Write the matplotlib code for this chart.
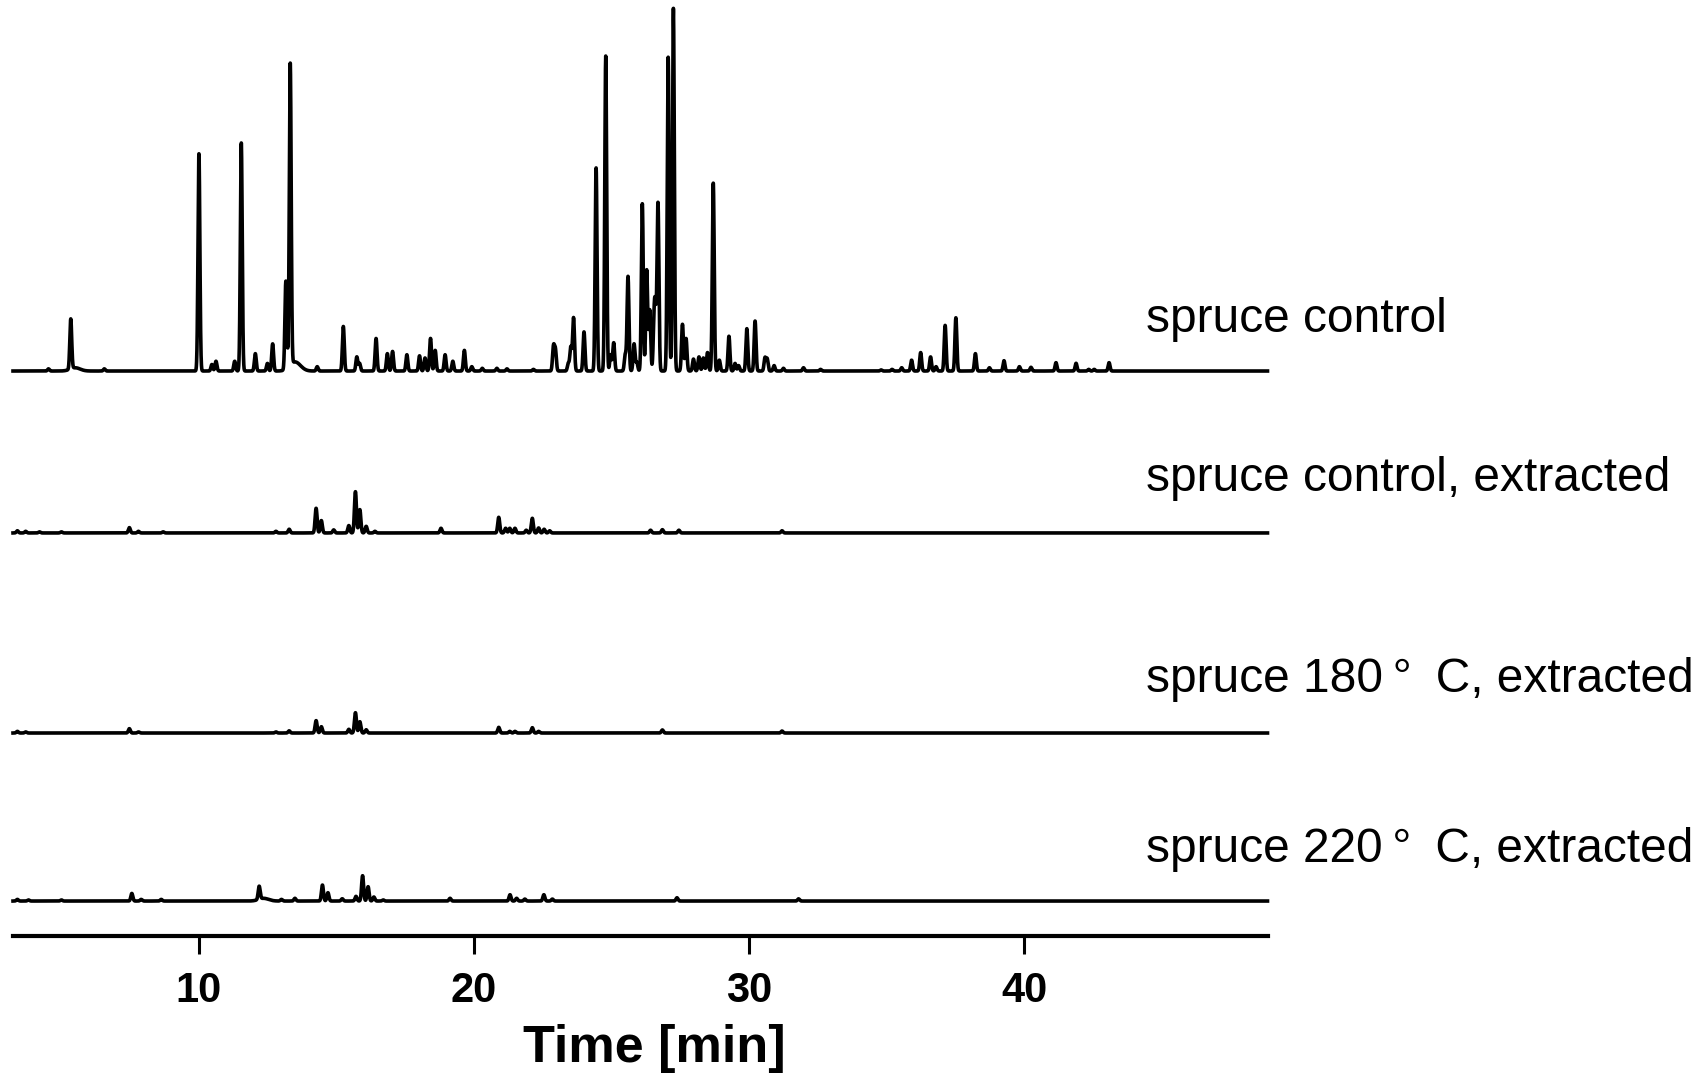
import numpy as np
import matplotlib
matplotlib.use("Agg")
import matplotlib.pyplot as plt

# ---------------- data (retention time [min], peak intensity) ----------------
t_control = [4.53, 5.34, 6.56, 10.0, 10.47, 10.62, 11.30, 11.54, 12.05, 12.49, 12.68, 13.16, 13.32,
             14.30, 15.25, 15.74, 15.84, 16.44, 16.85, 17.04, 17.56, 18.02, 18.22, 18.42, 18.59,
             18.95, 19.23, 19.65, 19.92, 20.30, 20.83, 21.20, 22.16, 22.89, 22.96, 23.43, 23.52,
             23.62, 24.00, 24.44, 24.79, 24.97, 25.08, 25.50, 25.60, 25.82, 25.92, 26.12, 26.28,
             26.39, 26.55, 26.60, 26.69, 27.06, 27.25, 27.58, 27.71, 27.98, 28.18, 28.34, 28.49,
             28.70, 28.92, 29.27, 29.49, 29.62, 29.92, 30.22, 30.58, 30.66, 30.91, 31.25, 31.98,
             32.6, 34.8, 35.2, 35.55, 35.91, 36.24, 36.60, 36.80, 37.13, 37.52, 38.23, 38.74,
             39.27, 39.83, 40.25, 41.16, 41.89, 42.35, 42.55, 43.09]
h_control = [2, 46, 2, 200, 6, 9, 9, 210, 16, 7, 25, 81, 278,
             4, 41, 13, 7, 30, 16, 18, 15, 14, 12, 30, 19,
             15, 9, 19, 4, 2.5, 2.5, 2, 1.5, 22, 19, 7, 22,
             49, 36, 187, 290, 15, 26, 15, 87, 25, 8, 154, 93,
             56, 44, 45, 154, 289, 334, 43, 30, 11, 13, 12, 17,
             173, 10, 32, 7, 5, 39, 46, 12, 11, 5, 2.5, 3,
             1.5, 1, 1.5, 3, 10, 17, 13, 4, 42, 49, 16, 3,
             9.5, 4, 3.4, 7.7, 7.1, 1.5, 1.5, 7.7]
t_control_tail = [5.50, 13.45, 13.60]
h_control_tail = [3, 6, 3]

t_extr = [3.4, 3.7, 4.2, 5.0, 7.47, 7.8, 8.7, 12.8, 13.28, 14.26, 14.45, 14.9, 15.45, 15.69,
          15.85, 16.08, 16.4, 18.80, 20.90, 21.15, 21.30, 21.49, 21.9, 22.12, 22.35, 22.55,
          22.75, 26.42, 26.85, 27.45, 31.2]
h_extr = [2, 1.5, 1, 1, 4.9, 1.5, 1, 1.5, 3.4, 22.7, 11.4, 2.8, 6.8, 38,
          21.5, 6.1, 1.5, 4.3, 14.4, 4.3, 4.3, 4.3, 2.5, 13.5, 4.6, 3.4,
          2, 2.5, 3, 2.5, 2]

t_180 = [3.4, 3.7, 7.47, 7.8, 12.8, 13.28, 14.26, 14.45, 15.45, 15.69, 15.85, 16.08,
         20.90, 21.30, 21.49, 22.12, 22.35, 26.85, 31.2]
h_180 = [1.5, 1, 4, 1, 1, 2, 11.4, 5.8, 3.4, 18.7, 10.4, 3,
         5.2, 1.5, 1.5, 4.9, 1.5, 2.8, 1.8]

t_220 = [3.4, 3.8, 5.0, 7.56, 7.9, 8.63, 12.19, 13.0, 13.49, 14.49, 14.69, 15.21, 15.71,
         15.95, 16.15, 16.36, 16.7, 19.13, 21.31, 21.55, 21.85, 22.54, 22.85, 27.38, 31.8]
h_220 = [1.5, 1, 1, 7, 1.5, 1.5, 12, 1.5, 2.5, 14.7, 7.7, 2.1, 4.3,
         23.3, 13.2, 3.7, 1, 2.5, 5.8, 2.5, 1.8, 5.8, 1.8, 3, 2]
t_220_tail = [12.35]
h_220_tail = [2.5]

labels = ["spruce control", "spruce control, extracted",
          "spruce 180\u2009°\u2002C, extracted", "spruce 220\u2009°\u2002C, extracted"]
offsets = [520.2, 371.1, 186.9, 32.2]
xticks = [10, 20, 30, 40]

# ---------------- drawing ----------------
W, H = 1703, 1074
fig = plt.figure(figsize=(W / 100, H / 100), dpi=100)
ax = fig.add_axes([13 / W, 138 / H, (1267.5 - 13) / W, 1 - 138 / H])
xmin, xmax = 3.24, 48.85
ax.set_xlim(xmin, xmax)
ax.set_ylim(0, 861.8)

x = np.linspace(xmin, xmax, 24000)


def trace(ts, hs, sigma, tails=((), ())):
    y = np.zeros_like(x)
    for t, h in zip(ts, hs):
        y += h * np.exp(-0.5 * ((x - t) / sigma) ** 2)
    for t, h in zip(*tails):
        y += h * np.exp(-0.5 * ((x - t) / 0.18) ** 2)
    return y


series = [
    trace(t_control, h_control, 0.034, (t_control_tail, h_control_tail)),
    trace(t_extr, h_extr, 0.036),
    trace(t_180, h_180, 0.036),
    trace(t_220, h_220, 0.036, (t_220_tail, h_220_tail)),
]
for y, off in zip(series, offsets):
    ax.plot(x, y + off, color="black", lw=2.6, solid_joinstyle="round", clip_on=False)

for s in ["left", "top", "right"]:
    ax.spines[s].set_visible(False)
ax.spines["bottom"].set_linewidth(3.0)
ax.set_yticks([])
ax.set_xticks(xticks)
ax.set_xticklabels([str(v) for v in xticks], fontfamily="Liberation Sans",
                   fontweight="bold", fontsize=30)
ax.tick_params(axis="x", direction="out", length=13, width=2.2, pad=12, color="black")
ax.set_xlabel("Time [min]", fontfamily="Liberation Sans", fontweight="bold", fontsize=37.5)
ax.xaxis.set_label_coords(0.511, -0.094)

baselines = [332, 491, 692, 862]
for lab, b in zip(labels, baselines):
    fig.text(1146 / W, 1 - b / H, lab, family=["Liberation Sans", "DejaVu Sans"], fontsize=34.5,
             va="baseline", ha="left")

fig.savefig("out.png", dpi=100)
